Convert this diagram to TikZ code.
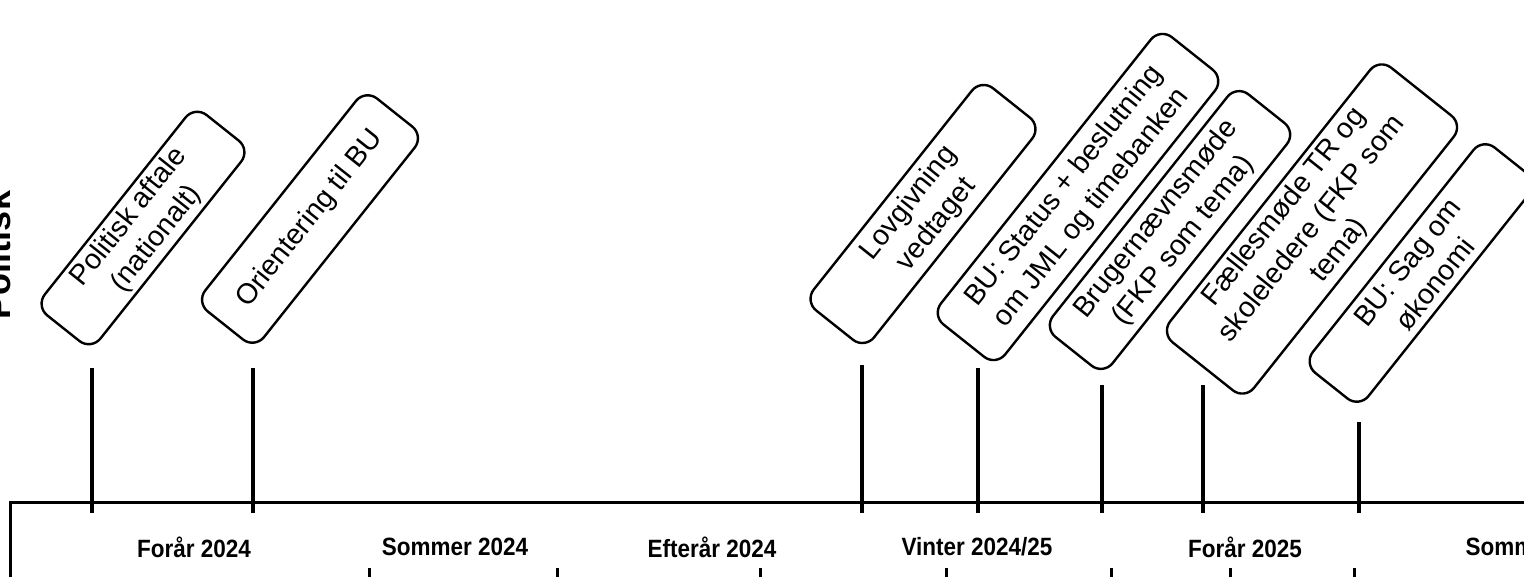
\documentclass[tikz,border=0pt]{standalone}
\usepackage{fontspec}
\setmainfont{Liberation Sans}
\newfontfamily\seasonFont[FakeStretch=0.9]{Liberation Sans}
\newcommand{\eventBox}[6]{%%
  %% A rotated box with the text of one event.
  \node[boxStyle,minimum width=#4,minimum height=#5] (#1) at (#2,#3) {#6};
}
\newcommand{\eventStem}[3]{%%
  %% The stem from below the box down through the time line.
  \coordinate (#1top) at (#2,#3);
  \coordinate (#1bottom) at (#2,\stemlow);
  \draw[stemStyle] (#1top) -- (#1bottom);
}
\newcommand{\seasonTick}[2]{%%
  \coordinate (#1top) at (#2,\ticktop);
  \coordinate (#1bottom) at (#2,\tickbottom);
  \draw[tickStyle] (#1top) -- (#1bottom);
}

\begin{document}
\begin{tikzpicture}[%%
  x=1pt,y=-1pt,%%
  boxStyle/.style={draw,line width=2.4pt,rounded corners=15pt,rotate=51.5,align=center,inner sep=1pt,font=\fontsize{28.5}{35}\selectfont},%%
  stemStyle/.style={line width=3.2pt},%%
  frameStyle/.style={line width=3pt},%%
  tickStyle/.style={line width=3pt},%%
  seasonStyle/.style={font=\seasonFont\bfseries\fontsize{25}{27}\selectfont},%%
  laneStyle/.style={font=\bfseries\fontsize{36}{38}\selectfont,rotate=90,anchor=base}%%
]
\useasboundingbox (0,0) rectangle (1524,576);
\clip (0,0) rectangle (1524,576);
%%
\pgfmathsetmacro{\lineY}{502}
\pgfmathsetmacro{\stemlow}{513}
\pgfmathsetmacro{\ticktop}{568}
\pgfmathsetmacro{\tickbottom}{580}
%% The frame of the time line.
\coordinate (frameLow) at (10,600);
\coordinate (frameCorner) at (10,\lineY);
\coordinate (frameEnd) at (1540,\lineY);
\coordinate (nextStart) at (0,578);
\coordinate (nextEnd) at (1540,578);
\draw[frameStyle] (frameLow) -- (frameCorner) -- (frameEnd);
\draw[frameStyle] (nextStart) -- (nextEnd);
%% The lane title.
\node[laneStyle] (lane) at (10,255) {Politisk};
%%
%% The events.
\eventBox{aftale}{143}{228}{256}{71}{Politisk aftale\\(nationalt)}
\eventBox{orientering}{310}{219}{272}{75}{Orientering til BU}
\eventBox{lovgivning}{923}{214}{284}{77}{Lovgivning\\vedtaget}
\eventBox{status}{1078}{197}{367}{82}{BU: Status + beslutning\\om JML og timebanken}
\eventBox{bruger}{1170}{230}{310}{76}{Brugernævnsmøde\\(FKP som tema)}
\eventBox{faelles}{1312}{229}{351}{107}{Fællesmøde TR og\\skoleledere (FKP som\\tema)}
\eventBox{sag}{1421}{273}{288}{71}{BU: Sag om\\økonomi}
%%
\eventStem{aftale}{92}{368}
\eventStem{orientering}{253}{368}
\eventStem{lovgivning}{862}{365}
\eventStem{status}{978}{368}
\eventStem{bruger}{1102}{385}
\eventStem{faelles}{1203}{385}
\eventStem{sag}{1359}{422}
%%
%% The seasons.
\node[seasonStyle] (spring24) at (194,547) {Forår 2024};
\node[seasonStyle] (summer24) at (455,547) {Sommer 2024};
\node[seasonStyle] (autumn24) at (712,547) {Efterår 2024};
\node[seasonStyle] (winter24) at (977,547) {Vinter 2024/25};
\node[seasonStyle] (spring25) at (1245,547) {Forår 2025};
\node[seasonStyle,anchor=west] (summer25) at (1462,547) {Sommer 2025};
%%
\seasonTick{tickA}{369}
\seasonTick{tickB}{557}
\seasonTick{tickC}{760}
\seasonTick{tickD}{946}
\seasonTick{tickE}{1111}
\seasonTick{tickF}{1230}
\seasonTick{tickG}{1354}
\end{tikzpicture}
\end{document}
